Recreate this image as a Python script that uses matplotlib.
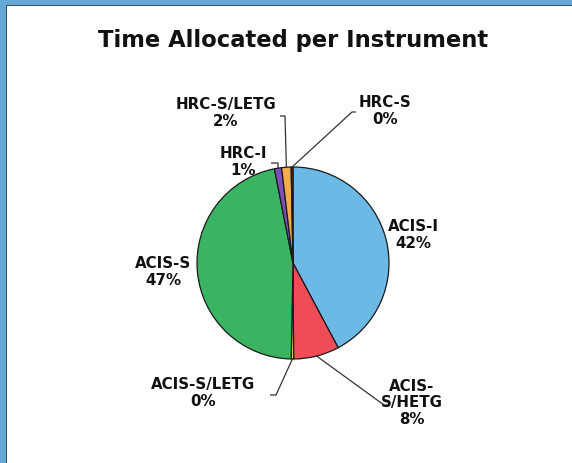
import numpy as np
import matplotlib
matplotlib.use("Agg")
import matplotlib.pyplot as plt
from matplotlib.patches import Rectangle

# Share of observing time per instrument configuration (percent)
instruments = ["ACIS-I", "ACIS-S/HETG", "ACIS-S/LETG", "ACIS-S", "HRC-I", "HRC-S/LETG", "HRC-S"]
shares = [42.2, 7.7, 0.4, 46.6, 1.2, 1.6, 0.3]
label_lines = ["ACIS-I", "ACIS-\nS/HETG", "ACIS-S/LETG", "ACIS-S", "HRC-I", "HRC-S/LETG", "HRC-S"]
colors = ["#6CB9E6", "#EE4C57", "#EAD97C", "#3AB463", "#7B50B8", "#F5AB4B", "#5E3A1E"]

W, H = 572, 463
fig = plt.figure(figsize=(W / 100, H / 100), dpi=100)
fig.patch.set_facecolor("white")
ax = fig.add_axes([0, 0, 1, 1])

cx, cy, r = 293, H - 263, 96
ax.pie(shares, colors=colors, startangle=90, counterclock=False,
       center=(cx, cy), radius=r, frame=True,
       wedgeprops=dict(edgecolor="#1a1a1a", linewidth=0.9))
ax.set_xlim(0, W)
ax.set_ylim(0, H)
ax.set_aspect("equal")
ax.axis("off")

# Label anchors (pixel positions from top-left) and leader-line elbows
label_pos = {
    "ACIS-I": (413, 235),
    "ACIS-S/HETG": (412, 403),
    "ACIS-S/LETG": (203, 393),
    "ACIS-S": (163, 272),
    "HRC-I": (243, 162),
    "HRC-S/LETG": (226, 113),
    "HRC-S": (385, 111),
}
leaders = {
    "ACIS-S/HETG": [(384, 405), (388, 405)],
    "ACIS-S/LETG": [(276, 395), (270, 395)],
    "HRC-I": [(278, 163), (271, 163)],
    "HRC-S/LETG": [(285, 116), (280, 116)],
    "HRC-S": [(352, 112), (356, 112)],
}

total = sum(shares)
start = 90.0
for name, lines, val in zip(instruments, label_lines, shares):
    sweep = 360.0 * val / total
    mid = np.deg2rad(start - sweep / 2)
    start -= sweep
    pct = f"{round(val / total * 100)}%"
    lx, ly = label_pos[name]
    ax.text(lx, H - ly, f"{lines}\n{pct}", ha="center", va="center",
            fontsize=10.8, fontweight="bold", color="#111111",
            family="DejaVu Sans", linespacing=1.15)
    if name in leaders:
        ex, ey = cx + r * np.cos(mid), cy + r * np.sin(mid)
        pts = [(ex, ey)] + [(px, H - py) for px, py in leaders[name]]
        xs, ys = zip(*pts)
        ax.plot(xs, ys, color="#333333", linewidth=0.9, solid_capstyle="butt")

ax.text(293, H - 40, "Time Allocated per Instrument", ha="center", va="center",
        fontsize=16.3, fontweight="bold", color="#111111", family="DejaVu Sans")

# Blue window frame along the left and top edges
frame_blue = "#64A8D6"
edge_dark = "#3C4B5A"
fig.patches.append(Rectangle((0, 0), 6 / W, 1, transform=fig.transFigure,
                             facecolor=frame_blue, edgecolor="none"))
fig.patches.append(Rectangle((0, 1 - 5 / H), 1, 5 / H, transform=fig.transFigure,
                             facecolor=frame_blue, edgecolor="none"))
fig.patches.append(Rectangle((6 / W, 0), 1.2 / W, 1 - 5 / H, transform=fig.transFigure,
                             facecolor=edge_dark, edgecolor="none"))
fig.patches.append(Rectangle((6 / W, 1 - 6.2 / H), 1, 1.2 / H, transform=fig.transFigure,
                             facecolor=edge_dark, edgecolor="none"))

fig.savefig("out.png", dpi=100)
